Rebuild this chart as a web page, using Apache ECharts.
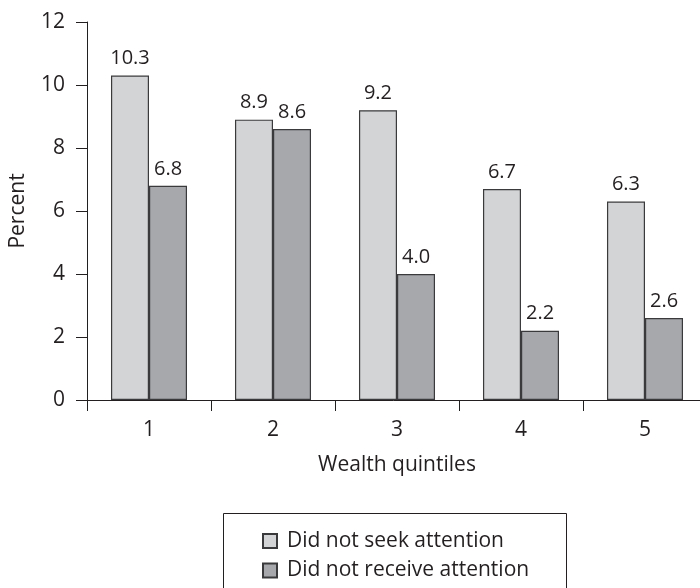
<!DOCTYPE html>
<html><head><meta charset="utf-8">
<script src="https://cdn.jsdelivr.net/npm/echarts@6/dist/echarts.min.js"></script>
<style>html,body{margin:0;padding:0;background:#fff}#c{width:700px;height:588px}</style>
</head><body><div id="c"></div>
<script>
const categories = ['1','2','3','4','5'];
const seekValues = [10.3, 8.9, 9.2, 6.7, 6.3];
const receiveValues = [6.8, 8.6, 4.0, 2.2, 2.6];
const seriesNames = ['Did not seek attention', 'Did not receive attention'];
const yTicks = [0, 2, 4, 6, 8, 10, 12];

const FONT = '"Open Sans", "Noto Sans", sans-serif';
const TXT = '#231f20';
const FS = 21;
const chart = echarts.init(document.getElementById('c'), null, {renderer:'canvas'});
const labelStyle = {show:true, position:'top', distance:7, formatter: p => p.value.toFixed(1), color:TXT, fontSize:20, fontFamily:FONT};
chart.setOption({
  animation:false,
  grid:{left:87, top:22, width:620, height:378, containLabel:false, outerBoundsMode:'none'},
  xAxis:{
    type:'category', data:categories,
    name:'Wealth quintiles', nameLocation:'middle', nameGap:55,
    nameTextStyle:{color:TXT, fontSize:FS, fontFamily:FONT},
    axisLine:{lineStyle:{color:'#231f20', width:1}},
    axisTick:{show:true, length:11, alignWithLabel:false, lineStyle:{color:'#231f20'}},
    axisLabel:{color:TXT, fontSize:FS, fontFamily:FONT, margin:20}
  },
  yAxis:{
    type:'value', min:yTicks[0], max:yTicks[yTicks.length-1], interval:2,
    name:'Percent', nameLocation:'middle', nameGap:58, nameRotate:90,
    nameTextStyle:{color:TXT, fontSize:FS, fontFamily:FONT},
    axisLine:{show:true, lineStyle:{color:'#231f20', width:1}},
    axisTick:{show:true, length:11, lineStyle:{color:'#231f20'}},
    splitLine:{show:false},
    axisLabel:{color:TXT, fontSize:FS, fontFamily:FONT, margin:22}
  },
  legend:{
    orient:'vertical', left:262, top:530,
    padding:0,
    itemWidth:14, itemHeight:14, itemGap:7.5,
    icon:'rect',
    textStyle:{color:TXT, fontSize:FS, fontFamily:FONT, lineHeight:22, padding:[0,0,0,5]},
    data:seriesNames
  },
  graphic:[{type:'rect', shape:{x:223.5, y:513.5, width:343, height:120}, style:{fill:'none', stroke:'#231f20', lineWidth:1}}],
  series:[
    {name:seriesNames[0], type:'bar', data:seekValues, barGap:'0%', barCategoryGap:'38.7%',
     itemStyle:{color:'#d3d4d6', borderColor:'#3a3a3c', borderWidth:1.2}, label:labelStyle},
    {name:seriesNames[1], type:'bar', data:receiveValues,
     itemStyle:{color:'#a7a8ab', borderColor:'#3a3a3c', borderWidth:1.2}, label:labelStyle}
  ]
});
</script></body></html>
